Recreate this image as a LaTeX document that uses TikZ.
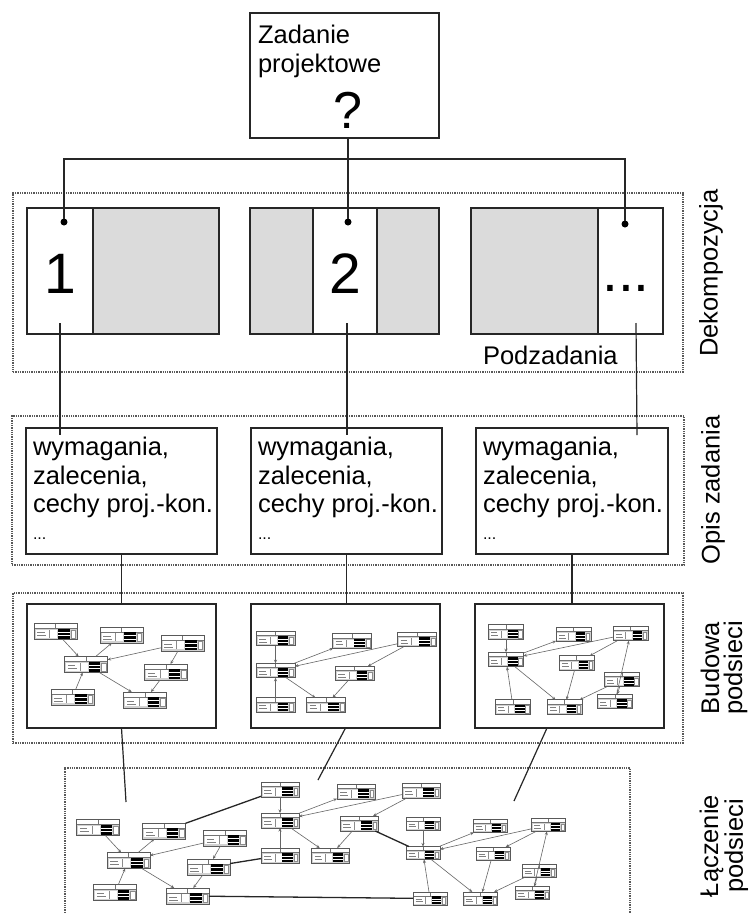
\documentclass[tikz,border=0pt]{standalone}
\usepackage{fontspec}
\setmainfont{Liberation Sans}
\usetikzlibrary{calc,arrows.meta}

% fractional rectangle / line inside a path picture (fractions of width and height)
\newcommand\mnr[5]{\path[#1] let \p1=(path picture bounding box.south west), \p2=(path picture bounding box.north east) in
  ({(\x1)+#2*((\x2)-(\x1))},{(\y1)+#3*((\y2)-(\y1))}) rectangle ({(\x1)+#4*((\x2)-(\x1))},{(\y1)+#5*((\y2)-(\y1))});}
\newcommand\mnl[5]{\path[#1] let \p1=(path picture bounding box.south west), \p2=(path picture bounding box.north east) in
  ({(\x1)+#2*((\x2)-(\x1))},{(\y1)+#3*((\y2)-(\y1))}) -- ({(\x1)+#4*((\x2)-(\x1))},{(\y1)+#5*((\y2)-(\y1))});}

\begin{document}
\begin{tikzpicture}[x=1pt,y=-1pt,
  every node/.style={inner sep=0pt, outer sep=0pt},
  frame/.style={draw=black!65, densely dotted, line width=1.3pt},
  box/.style={draw=black!85, line width=1.3pt},
  part/.style={draw=black!85, line width=1.3pt, minimum height=126pt},
  shade/.style={part, fill=black!14},
  link/.style={draw=black!85, line width=1.2pt},
  dot/.style={circle, fill=black, minimum size=7pt},
  txt/.style={font=\fontsize{25.5}{28}\selectfont, anchor=base west},
  big/.style={font=\fontsize{57}{57}\selectfont, anchor=base},
  side/.style={font=\fontsize{25.5}{23}\selectfont, rotate=90, align=center},
  mini/.style={draw=black!65, line width=0.7pt, fill=white,
    path picture={
      \mnr{fill=black!18}{0}{0}{1}{0.7}
      \mnl{draw=black!55, line width=0.5pt}{0}{0.7}{1}{0.7}
      \mnl{draw=black!55, line width=0.5pt}{0.5}{0.7}{0.5}{1}
      \mnr{fill=white}{0.04}{0.1}{0.54}{0.6}
      \mnl{draw=black!45, line width=0.3pt}{0.36}{0.1}{0.36}{0.6}
      \mnl{draw=black!50, line width=0.6pt}{0.08}{0.45}{0.25}{0.45}
      \mnl{draw=black!50, line width=0.6pt}{0.08}{0.25}{0.28}{0.25}
      \mnr{fill=black}{0.56}{0.06}{0.83}{0.66}
      \mnl{draw=white, line width=0.45pt}{0.56}{0.26}{0.83}{0.26}
      \mnl{draw=white, line width=0.45pt}{0.56}{0.46}{0.83}{0.46}
      \mnr{fill=white, draw=black!45, line width=0.3pt}{0.86}{0.1}{0.96}{0.6}
    }},
  sA/.style={mini, minimum width=43pt, minimum height=16pt},
  sB/.style={mini, minimum width=39pt, minimum height=14.5pt},
  sC/.style={mini, minimum width=35pt, minimum height=14.5pt},
  sE/.style={mini, minimum width=38pt, minimum height=15pt},
  sF/.style={mini, minimum width=34pt, minimum height=13pt},
  minilink/.style={draw=black!60, line width=0.6pt, -{Stealth[length=3.5pt,width=3pt]}},
  thicklink/.style={draw=black!85, line width=1.3pt}
]
\useasboundingbox (0,0) rectangle (752,913);
\fill[white] (0,0) rectangle (752,913);

% ---------- design task ----------
\node[box, minimum width=189pt, minimum height=125pt] (task) at (344.5,75.5) {};
\node[txt] (tz) at (258,43) {Zadanie};
\node[txt] (tp) at (258,72) {projektowe};
\node[font=\fontsize{52}{52}\selectfont, anchor=base] (tq) at (348,128) {?};

% ---------- decomposition ----------
\node[frame, minimum width=670pt, minimum height=179pt] (fr1) at (348,282.5) {};
\node[part, minimum width=66pt] (w1) at (60,271) {};
\node[shade, minimum width=126pt] (g1) at (156,271) {};
\node[shade, minimum width=63pt] (g2a) at (281.5,271) {};
\node[part, minimum width=64pt] (w2) at (345,271) {};
\node[shade, minimum width=62pt] (g2b) at (408,271) {};
\node[shade, minimum width=127pt] (g3) at (534.5,271) {};
\node[part, minimum width=65pt] (w3) at (630.5,271) {};
\node[big] (n1) at (60,293) {1};
\node[big] (n2) at (345,293) {2};
\node[big] (n3) at (626,291) {...};
\node[txt] (pz) at (483,364) {Podzadania};
\node[side] (l1) at (711,273) {Dekompozycja};

\node[dot] (d1) at (64,222) {};
\node[dot] (d2) at (348,222) {};
\node[dot] (d3) at (625,224) {};
\coordinate (jt) at (348,159);
\draw[link] (task.south -| d2) -- (d2);
\draw[link] (d1) |- (jt) -| (d3);

% ---------- task descriptions ----------
\node[frame, minimum width=672pt, minimum height=149pt] (fr2) at (348,490.5) {};
\node[box, minimum width=191pt, minimum height=126pt] (oA) at (121.5,491) {};
\node[box, minimum width=191pt, minimum height=126pt] (oB) at (346.5,491) {};
\node[box, minimum width=192pt, minimum height=126pt] (oC) at (572,491) {};
\foreach \b/\x in {oA/33, oB/258, oC/483} {
  \node[txt] (\b-1) at (\x,455) {wymagania,};
  \node[txt] (\b-2) at (\x,484) {zalecenia,};
  \node[txt] (\b-3) at (\x,512) {cechy proj.-kon.};
  \node[font=\fontsize{16}{16}\selectfont, anchor=base west] (\b-4) at (\x,539) {...};
}
\node[side] (l2) at (713,490) {Opis zadania};

\coordinate (s1) at (60,323);  \coordinate (e1) at (60,435);
\coordinate (s2) at (347,323); \coordinate (e2) at (347,435);
\coordinate (s3) at (636,323); \coordinate (e3) at (637,435);
\draw[link] (s1) -- (e1);
\draw[link] (s2) -- (e2);
\draw[link] (s3) -- (e3);

% ---------- subnetwork construction ----------
\node[frame, minimum width=670pt, minimum height=150pt] (fr3) at (348,668) {};
\node[box, minimum width=189pt, minimum height=124pt] (bA) at (121.5,666) {};
\node[box, minimum width=189pt, minimum height=124pt] (bB) at (345.5,666) {};
\node[box, minimum width=189pt, minimum height=124pt] (bC) at (569.5,666) {};
\node[side] (l3) at (724,668) {Budowa\\podsieci};

\draw[link] (oA.south) -- (oA.south |- bA.north);
\draw[link] (oB.south) -- (oB.south |- bB.north);
\draw[link] (oC.south) -- (oC.south |- bC.north);

\foreach \n/\x/\y in {A1/55.5/631.5, A2/121.5/635, A3/182.5/643, A4/86/664.5,
                      A5/166/672, A6/72.5/697, A7/145/700}
  \node[sA] (\n) at (\x,\y) {};
\foreach \n/\x/\y in {B1/275.5/638.5, B2/352/641, B3/417/639.5, B4/275.5/670.5,
                      B5/354.5/673.5, B6/275.5/705, B7/326/705}
  \node[sB] (\n) at (\x,\y) {};
\foreach \n/\x/\y in {C1/506/632, C2/573.5/634.5, C3/630.5/633.5, C4/506/659.5,
                      C5/576.5/663, C6/622/679.5, C7/513/707, C8/564.5/707, C9/615/701.5}
  \node[sC] (\n) at (\x,\y) {};

\foreach \a/\b in {A1/A4, A4/A2, A3/A4, A3/A5, A6/A4, A4/A7, A5/A7,
                   B1/B4, B4/B2, B3/B4, B3/B5, B6/B4, B4/B7, B5/B7,
                   C1/C4, C4/C2, C3/C4, C3/C5, C7/C4, C4/C8, C5/C8, C6/C8, C9/C3, C6/C9}
  \draw[minilink] (\a) -- (\b);

% ---------- joining subnetworks ----------
\draw[frame] (65,913) -- (65,768) -- (630,768) -- (630,913);
\node[side] (l4) at (724,846) {Łączenie\\podsieci};

\coordinate (u1) at (126,802);
\coordinate (u2) at (318,780);
\coordinate (u3) at (514,801);
\coordinate (v3) at (547,0);
\draw[link] (bA.south) -- (u1);
\draw[link] (bB.south) -- (u2);
\draw[link] (bC.south -| v3) -- (u3);

\foreach \n/\x/\y in {L1/98/827.5, L2/164/831, L3/225/838, L4/128.5/860.5,
                      L5/208.5/867, L6/115/892.5, L7/187.5/896}
  \node[sA] (\n) at (\x,\y) {};
\foreach \n/\x/\y in {M1/280/789.5, M2/356/791.5, M3/421/790.5, M4/280/820.5,
                      M5/359/823.5, M6/280/855.5, M7/330.5/855.5}
  \node[sE] (\n) at (\x,\y) {};
\foreach \n/\x/\y in {R1/423/823.5, R2/490/826, R3/548.5/825, R4/423/853,
                      R5/493/853.5, R6/539/870.5, R7/430/898.5, R8/480.5/898.5, R9/532.5/893}
  \node[sF] (\n) at (\x,\y) {};

\foreach \a/\b in {L1/L4, L4/L2, L3/L4, L3/L5, L6/L4, L4/L7, L5/L7,
                   M1/M4, M4/M2, M3/M4, M3/M5, M6/M4, M4/M7, M5/M7,
                   R1/R4, R4/R2, R3/R4, R3/R5, R7/R4, R4/R8, R5/R8, R6/R8, R9/R3, R6/R9}
  \draw[minilink] (\a) -- (\b);

\draw[thicklink] (L2) -- (M1);
\draw[thicklink] (L5) -- (M6);
\draw[thicklink] (M5) -- (R4);
\draw[thicklink] (L7) -- (R7);
\end{tikzpicture}
\end{document}
